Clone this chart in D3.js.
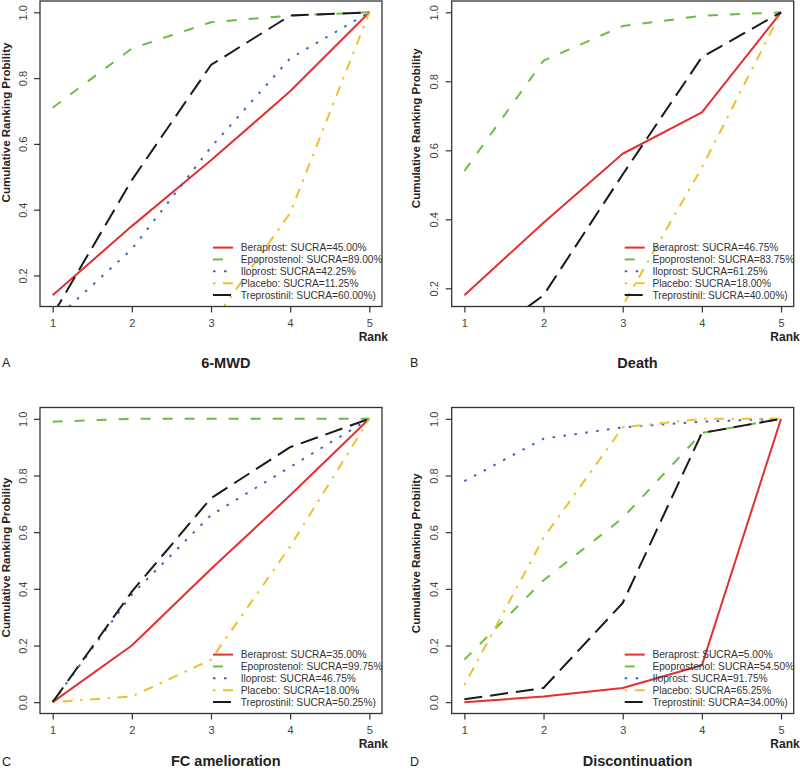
<!DOCTYPE html>
<html>
<head>
<meta charset="utf-8">
<script src="https://cdn.jsdelivr.net/npm/d3@7"></script>
<style>
  html, body { margin: 0; padding: 0; background: #fff; }
  svg { display: block; }
  text { font-family: "Liberation Sans", Arial, sans-serif; }
</style>
</head>
<body>
<svg id="chart" width="800" height="773"></svg>
<script>
// ---------------- data ----------------
const ranks = [1, 2, 3, 4, 5];
const treatments = ["Beraprost", "Epoprostenol", "Iloprost", "Placebo", "Treprostinil"];
const panelTitles = ["6-MWD", "Death", "FC amelioration", "Discontinuation"];
const panelLetters = ["A", "B", "C", "D"];
const yTickValues = [0.0, 0.2, 0.4, 0.6, 0.8, 1.0];

// cumulative ranking probabilities, per treatment (order as treatments), ranks 1..5
const mwdValues = [
  [0.14, 0.35, 0.55, 0.76, 1.00],
  [0.71, 0.89, 0.97, 0.99, 1.00],
  [0.06, 0.28, 0.59, 0.86, 1.00],
  [0.00, 0.01, 0.05, 0.39, 1.00],
  [0.08, 0.49, 0.84, 0.99, 1.00]
];
const deathValues = [
  [0.18, 0.39, 0.59, 0.71, 1.00],
  [0.54, 0.86, 0.96, 0.99, 1.00],
  null,
  [0.00, 0.02, 0.15, 0.55, 1.00],
  [0.01, 0.18, 0.53, 0.87, 1.00]
];
const fcValues = [
  [0.00, 0.20, 0.47, 0.73, 1.00],
  [0.99, 1.00, 1.00, 1.00, 1.00],
  [0.00, 0.38, 0.66, 0.83, 1.00],
  [0.00, 0.02, 0.15, 0.55, 1.00],
  [0.00, 0.39, 0.72, 0.90, 1.00]
];
const discValues = [
  [0.00, 0.02, 0.05, 0.13, 1.00],
  [0.15, 0.43, 0.65, 0.95, 1.00],
  [0.78, 0.93, 0.97, 0.99, 1.00],
  [0.06, 0.58, 0.97, 1.00, 1.00],
  [0.01, 0.05, 0.35, 0.95, 1.00]
];

const mwdSucra   = ["45.00%", "89.00%", "42.25%", "11.25%", "60.00%)"];
const deathSucra = ["46.75%", "83.75%", "61.25%", "18.00%", "40.00%)"];
const fcSucra    = ["35.00%", "99.75%", "46.75%", "18.00%", "50.25%)"];
const discSucra  = ["5.00%", "54.50%", "91.75%", "65.25%", "34.00%)"];

// ---------------- styles ----------------
const colors = ["#E3302F", "#6ABD45", "#3A64B8", "#F2BE2C", "#1a1a1a"];
const dashes = [null, "10,12", "2.5,8.5", "2.5,7.5,10,7.5", "18,8"];

const panelData = [mwdValues, deathValues, fcValues, discValues];
const panelSucra = [mwdSucra, deathSucra, fcSucra, discSucra];

// panel geometry
const panelBoxes = [
  { l: 40,    r: 382,   t: 1,     b: 306.5, titleY: 367.5, letterX: 2,   letterY: 367, yTitleX: 10,  yTitleY: 122.5 },
  { l: 451.7, r: 793.7, t: 1,     b: 306.5, titleY: 367.5, letterX: 410, letterY: 367, yTitleX: 420, yTitleY: 128.3 },
  { l: 40,    r: 382,   t: 407.5, b: 713.5, titleY: 765.5, letterX: 2,   letterY: 766, yTitleX: 10,  yTitleY: 557.5 },
  { l: 451.7, r: 793.7, t: 407.5, b: 713.5, titleY: 765.5, letterX: 410, letterY: 766, yTitleX: 420, yTitleY: 553.3 }
];

const svg = d3.select("#chart");

panelBoxes.forEach((box, p) => {
  const data = panelData[p];
  const sucra = panelSucra[p];

  const x = d3.scaleLinear().domain([0.84, 5.16]).range([box.l, box.r]);
  const ext = d3.extent(data[0]);
  const pad = (ext[1] - ext[0]) * 0.04;
  const y = d3.scaleLinear().domain([ext[0] - pad, ext[1] + pad]).range([box.b, box.t]);

  const g = svg.append("g");
  const clipId = "clip" + p;
  g.append("clipPath").attr("id", clipId)
    .append("rect")
    .attr("x", box.l).attr("y", box.t)
    .attr("width", box.r - box.l).attr("height", box.b - box.t);

  // lines
  const line = d3.line().x((d, i) => x(ranks[i])).y(d => y(d));
  const lg = g.append("g").attr("clip-path", `url(#${clipId})`);
  data.forEach((series, k) => {
    if (!series) return;
    lg.append("path")
      .attr("d", line(series))
      .attr("fill", "none")
      .attr("stroke", colors[k])
      .attr("stroke-width", 2)
      .attr("stroke-dasharray", dashes[k])
      .attr("stroke-linejoin", "round");
  });

  // axes
  const xAxis = g.append("g")
    .attr("transform", `translate(0,${box.b})`)
    .call(d3.axisBottom(x).tickValues(ranks).tickSize(6).tickFormat(d3.format("d")));
  xAxis.select(".domain").remove();
  xAxis.selectAll(".tick line").attr("stroke", "#333").attr("stroke-width", 1.2);
  xAxis.selectAll(".tick text")
    .attr("y", 20.5).attr("dy", null)
    .attr("fill", "#444").style("font-size", "11px")
    .style("font-family", "Liberation Sans, Arial, sans-serif");

  const yt = yTickValues.filter(v => v >= y.domain()[0] && v <= y.domain()[1]);
  const yAxis = g.append("g")
    .attr("transform", `translate(${box.l},0)`)
    .call(d3.axisLeft(y).tickValues(yt).tickSize(6).tickFormat(d3.format(".1f")));
  yAxis.select(".domain").remove();
  yAxis.selectAll(".tick line").attr("stroke", "#333").attr("stroke-width", 1.2);
  yAxis.selectAll(".tick text")
    .attr("x", null).attr("dy", null)
    .attr("text-anchor", "middle")
    .attr("transform", "translate(-13.5,0) rotate(-90)")
    .attr("fill", "#444").style("font-size", "11px")
    .style("font-family", "Liberation Sans, Arial, sans-serif");

  // box
  g.append("rect")
    .attr("x", box.l).attr("y", box.t)
    .attr("width", box.r - box.l).attr("height", box.b - box.t)
    .attr("fill", "none").attr("stroke", "#333").attr("stroke-width", 1.3);

  // legend
  const legX = box.r - 169;
  const legY0 = box.b - 58.9;
  const rowH = 11.85;
  treatments.forEach((name, k) => {
    const ry = legY0 + k * rowH;
    g.append("line")
      .attr("x1", legX).attr("x2", legX + 20)
      .attr("y1", ry).attr("y2", ry)
      .attr("stroke", colors[k]).attr("stroke-width", 2)
      .attr("stroke-dasharray", dashes[k]);
    g.append("text")
      .attr("x", legX + 27.7).attr("y", ry)
      .attr("dy", "0.35em")
      .attr("fill", "#333")
      .style("font-size", "10.2px")
      .text(`${name}: SUCRA=${sucra[k]}`);
  });

  // axis titles
  g.append("text")
    .attr("x", box.r + 6).attr("y", box.b + 34)
    .attr("text-anchor", "end")
    .attr("font-weight", "bold").attr("fill", "#222")
    .style("font-size", "12px")
    .text("Rank");

  g.append("text")
    .attr("transform", `translate(${box.yTitleX},${box.yTitleY}) rotate(-90)`)
    .attr("text-anchor", "middle")
    .attr("font-weight", "bold").attr("fill", "#222")
    .style("font-size", "11.5px")
    .text("Cumulative Ranking Probility");

  // panel title and letter
  g.append("text")
    .attr("x", (box.l + box.r) / 2 + 14.8).attr("y", box.titleY)
    .attr("text-anchor", "middle")
    .attr("font-weight", "bold").attr("fill", "#222")
    .style("font-size", "14.5px")
    .text(panelTitles[p]);

  g.append("text")
    .attr("x", box.letterX).attr("y", box.letterY)
    .attr("fill", "#222")
    .style("font-size", "12.5px")
    .text(panelLetters[p]);
});
</script>
</body>
</html>
